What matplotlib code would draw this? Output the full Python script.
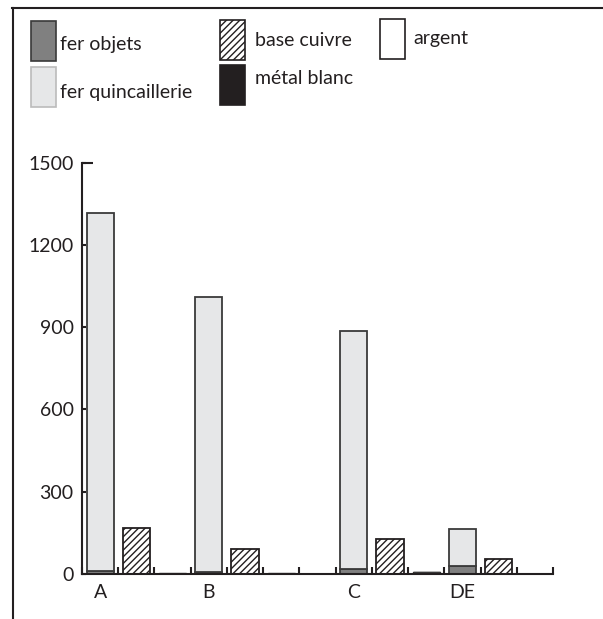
import matplotlib
matplotlib.use("Agg")
import matplotlib.pyplot as plt
from matplotlib.patches import Rectangle
from matplotlib.lines import Line2D
import numpy as np

plt.rcParams['font.family'] = ['Lato', 'DejaVu Sans']
plt.rcParams['hatch.linewidth'] = 1.0

categories = ['A', 'B', 'C', 'DE']
fer_objets = [12, 8, 19, 29]
fer_quincaillerie = [1306, 1004, 867, 135]
base_cuivre = [168, 92, 128, 56]
metal_blanc = [0, 0, 8, 0]
argent = [3, 3, 0, 0]
yticks = [0, 300, 600, 900, 1200, 1500]

DARK = '#231f20'
EDGE = '#3a3a3a'
C_OBJ = '#808080'
C_QUI = '#e6e7e8'

fig = plt.figure(figsize=(6.03, 6.19), dpi=100)
W, H = 603, 619
ax = fig.add_axes([82 / W, (H - 574) / H, (553 - 82) / W, (574 - 162.7) / H])

group_start = np.array([0, 3, 7, 10])
bw = 0.75
x1 = group_start + 0.5
x2 = group_start + 1.5
x3 = group_start + 2.5

ax.bar(x1, fer_objets, bw, color=C_OBJ, edgecolor=EDGE, linewidth=1.3)
ax.bar(x1, fer_quincaillerie, bw, bottom=fer_objets, color=C_QUI, edgecolor=EDGE, linewidth=1.3)
ax.bar(x2, base_cuivre, bw, color='white', edgecolor=DARK, hatch='/////', linewidth=1.3)
ax.bar(x3, metal_blanc, bw, color=DARK, edgecolor=DARK, linewidth=1.0)
ax.bar(x3, argent, bw, bottom=metal_blanc, color='white', edgecolor=EDGE, linewidth=1.0)

ax.set_xlim(0, 13)
ax.set_ylim(0, 1500)
for s in ['top', 'right']:
    ax.spines[s].set_visible(False)
for s in ['left', 'bottom']:
    ax.spines[s].set_linewidth(1.5)
    ax.spines[s].set_color(DARK)

ax.set_yticks(yticks)
ax.set_yticklabels([str(v) for v in yticks])
ax.tick_params(axis='y', direction='in', length=3, width=1.5, color=DARK,
               labelsize=14, pad=6, labelcolor=DARK)
ax.plot([0, 0.3], [yticks[-1], yticks[-1]], color=DARK, lw=1.5, clip_on=False,
        solid_capstyle='butt')

ax.set_xticks(x1)
ax.set_xticklabels(categories)
ax.set_xticks(np.arange(0, 14), minor=True)
ax.tick_params(axis='x', which='major', length=0, labelsize=14, pad=7, labelcolor=DARK)
ax.tick_params(axis='x', which='minor', direction='in', length=5, width=1.5, color=DARK)

# frame lines
fig.add_artist(Line2D([12 / W, 1.0], [1 - 8 / H, 1 - 8 / H], transform=fig.transFigure,
                      color=DARK, lw=1.5))
fig.add_artist(Line2D([13 / W, 13 / W], [0, 1 - 8 / H], transform=fig.transFigure,
                      color=DARK, lw=1.5))

# legend: (box x, box top y, text x, text baseline y)
legend_items = [
    (31, 21, 60, 50, 'fer objets', dict(facecolor=C_OBJ, edgecolor=EDGE)),
    (220, 20, 255, 46, 'base cuivre', dict(facecolor='white', edgecolor=DARK, hatch='/////')),
    (380, 19, 413, 44, 'argent', dict(facecolor='white', edgecolor=DARK)),
    (31, 67, 60, 98, 'fer quincaillerie', dict(facecolor=C_QUI, edgecolor='#bbbbbb')),
    (220, 65, 255, 84, 'métal blanc', dict(facecolor=DARK, edgecolor=DARK)),
]
for (x, y, tx, ty, lab, kw) in legend_items:
    fig.add_artist(Rectangle((x / W, 1 - (y + 40) / H), 25 / W, 40 / H,
                             transform=fig.transFigure, linewidth=1.2, **kw))
    fig.text(tx / W, 1 - ty / H, lab, fontsize=14, color=DARK,
             va='baseline', ha='left')

fig.savefig('out.png', dpi=100)
